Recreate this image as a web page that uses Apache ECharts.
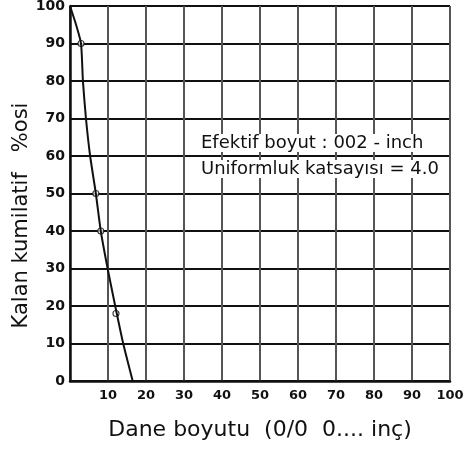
<!DOCTYPE html>
<html>
<head>
<meta charset="utf-8">
<script src="https://cdn.jsdelivr.net/npm/echarts@6/dist/echarts.min.js"></script>
<style>html,body{margin:0;padding:0;background:#fff}#c{width:467px;height:450px}</style>
</head>
<body>
<div id="c"></div>
<script>
// Curve: grain size (x) vs cumulative retained % (y)
var grainSize = [0, 1.6, 2.9, 3.4, 4.2, 5.3, 6.8, 8.1, 9.9, 11.9, 14.0, 16.5];
var retained  = [100, 95, 90, 80, 70, 60, 50, 40, 30, 20, 10, 0];
// Marked (circled) points
var markedSize = [2.9, 6.8, 8.1, 12.1];
var markedRetained = [90, 50, 40, 18];
// Axis ticks
var xTicks = [0, 10, 20, 30, 40, 50, 60, 70, 80, 90, 100];
var yTicks = [0, 10, 20, 30, 40, 50, 60, 70, 80, 90, 100];
var annotationLines = ['Efektif boyut : 002 - inch', 'Uniformluk katsayısı = 4.0'];
var xName = 'Dane boyutu  (0/0  0.... inç)';
var yName = 'Kalan kumilatif   %osi';

var chart = echarts.init(document.getElementById('c'));
var font = 'DejaVu Sans';
chart.setOption({
  animation: false,
  backgroundColor: '#fff',
  grid: {left: 70, right: 17, top: 6, bottom: 69, outerBoundsMode: 'none', containLabel: false},
  xAxis: {
    type: 'value', min: xTicks[0], max: xTicks[xTicks.length - 1], interval: 10,
    name: xName, nameLocation: 'middle', nameGap: 38, nameMoveOverlap: false,
    nameTextStyle: {fontFamily: font, fontSize: 22, color: '#111'},
    axisLine: {show: true, lineStyle: {color: '#111', width: 2.5}},
    axisTick: {show: false},
    axisLabel: {showMinLabel: false, fontFamily: font, fontSize: 13, fontWeight: 'bold', color: '#111', margin: 8},
    splitLine: {show: true, lineStyle: {color: '#555', width: 2}}
  },
  yAxis: {
    type: 'value', min: yTicks[0], max: yTicks[yTicks.length - 1], interval: 10,
    name: yName, nameLocation: 'middle', nameGap: 38, nameMoveOverlap: false,
    nameTextStyle: {fontFamily: font, fontSize: 21, color: '#111', padding: [0, 44, 0, 0]},
    axisLine: {show: true, lineStyle: {color: '#111', width: 2.5}},
    axisTick: {show: false},
    axisLabel: {fontFamily: font, fontSize: 14, fontWeight: 'bold', color: '#111', margin: 5},
    splitLine: {show: true, lineStyle: {color: '#111', width: 2}}
  },
  series: [
    {
      type: 'line', smooth: 0.2, showSymbol: false,
      data: grainSize.map(function (x, i) { return [x, retained[i]]; }),
      lineStyle: {color: '#111', width: 2}
    },
    {
      type: 'scatter', symbol: 'circle', symbolSize: 6,
      data: markedSize.map(function (x, i) { return [x, markedRetained[i]]; }),
      itemStyle: {color: '#fff', borderColor: '#111', borderWidth: 1.2}
    }
  ],
  graphic: [
    {type: 'text', left: 199, top: 134, z: 100,
     style: {text: annotationLines[0], fontFamily: font, fontSize: 18, fill: '#111', backgroundColor: '#fff', padding: [0, 2]}},
    {type: 'text', left: 199, top: 160, z: 100,
     style: {text: annotationLines[1], fontFamily: font, fontSize: 18, fill: '#111', backgroundColor: '#fff', padding: [0, 2]}}
  ]
});
</script>
</body>
</html>
